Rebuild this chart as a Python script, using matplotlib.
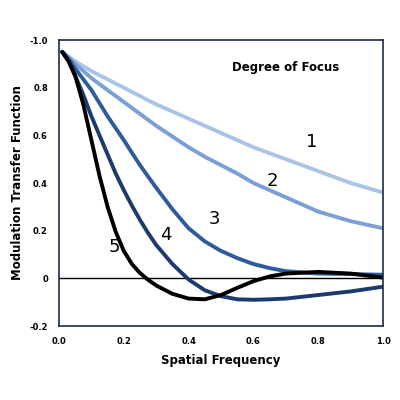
import matplotlib
matplotlib.use("Agg")
import matplotlib.pyplot as plt

x = [0.01, 0.03, 0.05, 0.075, 0.1, 0.125, 0.15, 0.175, 0.2, 0.225, 0.25, 0.275, 0.3, 0.35, 0.4, 0.45,
     0.5, 0.55, 0.6, 0.65, 0.7, 0.8, 0.9, 1.0]
curve1 = [0.95, 0.93, 0.91, 0.89, 0.87, 0.852, 0.835, 0.817, 0.80, 0.782, 0.765, 0.747, 0.73, 0.70,
          0.67, 0.64, 0.61, 0.58, 0.55, 0.525, 0.50, 0.45, 0.40, 0.36]
curve2 = [0.95, 0.925, 0.90, 0.87, 0.84, 0.815, 0.79, 0.765, 0.74, 0.715, 0.69, 0.665, 0.64, 0.595,
          0.55, 0.51, 0.475, 0.44, 0.40, 0.37, 0.34, 0.28, 0.24, 0.21]
curve3 = [0.95, 0.92, 0.88, 0.835, 0.79, 0.735, 0.68, 0.63, 0.58, 0.527, 0.475, 0.427, 0.38, 0.29,
          0.21, 0.155, 0.115, 0.085, 0.06, 0.043, 0.03, 0.02, 0.018, 0.015]
curve4 = [0.95, 0.91, 0.85, 0.77, 0.68, 0.60, 0.52, 0.44, 0.37, 0.305, 0.245, 0.19, 0.14, 0.06,
          -0.005, -0.05, -0.075, -0.088, -0.09, -0.088, -0.085, -0.07, -0.055, -0.035]
curve5 = [0.95, 0.91, 0.85, 0.73, 0.58, 0.43, 0.30, 0.195, 0.115, 0.06, 0.022, -0.006, -0.03, -0.065,
          -0.085, -0.088, -0.07, -0.04, -0.012, 0.008, 0.02, 0.027, 0.02, 0.003]
curves = [curve1, curve2, curve3, curve4, curve5]
colors = ["#a9c4e8", "#7b9fd6", "#2e5b9a", "#1c3a6e", "#000000"]
labels = ["1", "2", "3", "4", "5"]
label_pos = [(0.78, 0.57), (0.66, 0.41), (0.48, 0.25), (0.33, 0.18), (0.17, 0.13)]

yticks = [1.0, 0.8, 0.6, 0.4, 0.2, 0.0, -0.2]
ytick_labels = ["-1.0", "0.8", "0.6", "0.4", "0.2", "0", "-0.2"]
xticks = [0.0, 0.2, 0.4, 0.6, 0.8, 1.0]

fig = plt.figure(figsize=(4, 4), dpi=100)
ax = fig.add_axes([0.1475, 0.185, 0.81, 0.715])

ax.axhline(0, color="black", lw=1)
for c, col in zip(curves, colors):
    ax.plot(x, c, color=col, lw=2.8, solid_capstyle="round", solid_joinstyle="round")
for lab, (lx, ly) in zip(labels, label_pos):
    ax.text(lx, ly, lab, fontsize=13, ha="center", va="center")
ax.text(0.70, 0.87, "Degree of Focus", fontsize=8.5, fontweight="bold", ha="center")

ax.set_xlim(0, 1.0)
ax.set_ylim(-0.2, 1.0)
ax.set_xticks(xticks)
ax.set_xticklabels([f"{t:.1f}" for t in xticks], fontsize=6, fontweight="bold")
ax.set_yticks(yticks)
ax.set_yticklabels(ytick_labels, fontsize=6, fontweight="bold")
ax.tick_params(length=0, pad=8)
for s in ax.spines.values():
    s.set_color("#1c2a4a")
    s.set_linewidth(1.2)
ax.set_xlabel("Spatial Frequency", fontsize=8.5, fontweight="bold", labelpad=6)
ax.set_ylabel("Modulation Transfer Function", fontsize=8.5, fontweight="bold", labelpad=4)

fig.savefig("out.png", dpi=100)
